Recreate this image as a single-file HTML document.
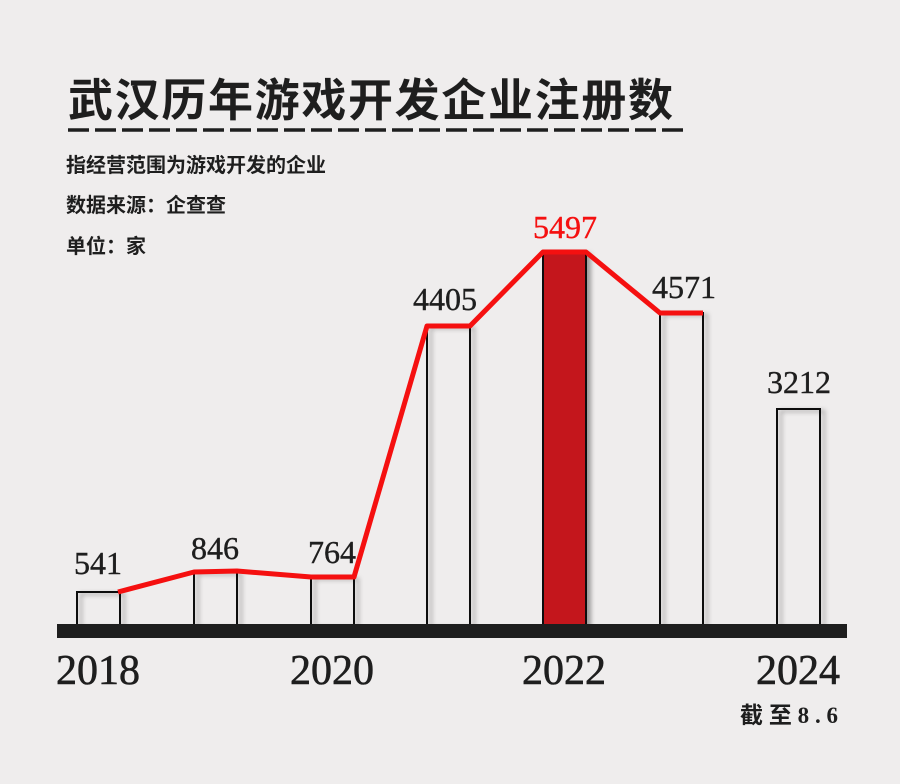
<!DOCTYPE html>
<html><head><meta charset="utf-8"><style>
body{margin:0;background:#efeded;}
svg{display:block}
</style></head><body>
<svg width="900" height="784" xmlns="http://www.w3.org/2000/svg">
<defs><filter id="sh" x="-30%" y="-10%" width="160%" height="130%"><feDropShadow dx="4" dy="2" stdDeviation="2.5" flood-color="#000" flood-opacity="0.35"/></filter></defs>
<rect width="900" height="784" fill="#efeded"/>
<text x="68" y="116" font-family="'Noto Sans CJK SC',sans-serif" font-weight="700" font-size="45" fill="#1e1e1e" textLength="605">武汉历年游戏开发企业注册数</text>
<line x1="68" y1="130" x2="683" y2="130" stroke="#1e1e1e" stroke-width="3.5" stroke-dasharray="21,6"/>
<g font-family="'Noto Sans CJK SC',sans-serif" font-weight="700" font-size="20" fill="#1e1e1e">
<text x="66" y="172">指经营范围为游戏开发的企业</text>
<text x="66" y="212">数据来源：企查查</text>
<text x="66" y="253">单位：家</text>
</g>
<g fill="none" stroke="#111" stroke-width="2" filter="url(#sh)">
<rect x="77" y="592" width="43" height="34"/>
<rect x="194" y="572" width="43" height="54"/>
<rect x="311" y="577" width="43" height="49"/>
<rect x="427" y="326" width="43" height="300"/>
<rect x="660" y="313" width="43" height="313"/>
<rect x="777" y="409" width="43" height="217"/>
</g>
<rect x="543" y="252" width="43" height="374" fill="#c4161a" stroke="#111" stroke-width="2" filter="url(#sh)"/>
<rect x="57" y="624" width="790" height="14" fill="#1e1e1e"/>
<polyline points="118,592 194,572 237,571 311,577 354,577 427,326 470,326 543,252 586,252 660,313 703,313" fill="none" stroke="#f51010" stroke-width="5" stroke-linejoin="round"/>
<g font-family="'Liberation Serif',serif" font-size="32" fill="#1e1e1e" text-anchor="middle" stroke="#1e1e1e" stroke-width="0.4">
<text x="98" y="574">541</text>
<text x="215" y="559">846</text>
<text x="332" y="563">764</text>
<text x="445" y="310">4405</text>
<text x="565" y="238" fill="#f51010" stroke="#f51010">5497</text>
<text x="684" y="298">4571</text>
<text x="799" y="393">3212</text>
</g>
<g font-family="'Liberation Serif',serif" font-size="42" fill="#1e1e1e" text-anchor="middle" stroke="#1e1e1e" stroke-width="0.6">
<text x="98" y="684">2018</text>
<text x="332" y="684">2020</text>
<text x="564" y="684">2022</text>
<text x="798" y="684">2024</text>
</g>
<text x="740" y="723" textLength="98" font-family="'Liberation Serif','Noto Sans CJK SC',serif" font-weight="700" font-size="23" fill="#1e1e1e">截至8.6</text>
</svg>
</body></html>
